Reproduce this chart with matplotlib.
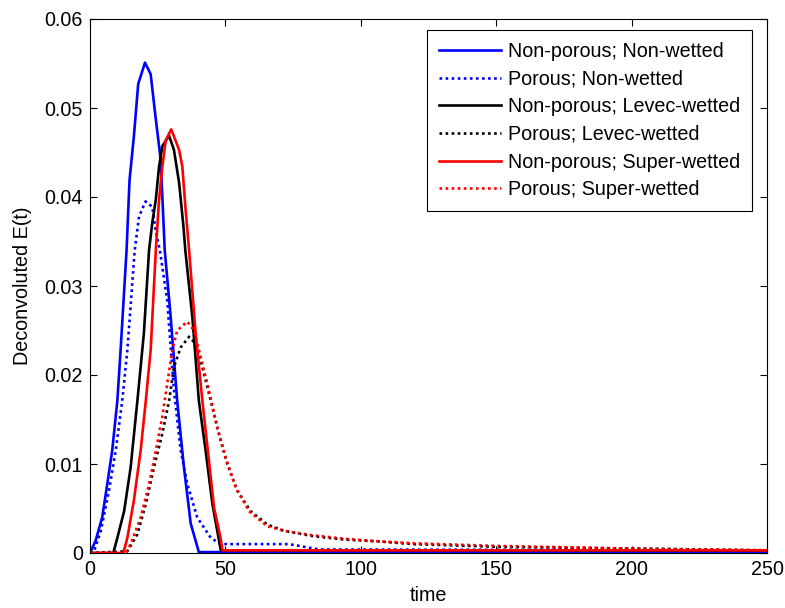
import matplotlib
matplotlib.use("Agg")
import matplotlib.pyplot as plt

plt.rcParams['font.family'] = ['Liberation Sans', 'DejaVu Sans']

# Non-porous; Non-wetted
t_np_nw = [0, 2.1, 4.5, 6.4, 8.2, 10.1, 11.3, 13.5, 14.6, 16.2, 17.8, 20.3, 22.4, 24.2, 26.1,
           27.6, 29.8, 32.2, 34.7, 37.2, 40.2, 250]
e_np_nw = [0, 0.0014, 0.004, 0.0078, 0.0115, 0.0171, 0.0228, 0.034, 0.0419, 0.0468, 0.0527,
           0.0551, 0.0538, 0.049, 0.0442, 0.034, 0.0265, 0.0171, 0.0096, 0.0033, 0.0001, 0.0001]

# Porous; Non-wetted
t_p_nw = [0, 1.5, 4, 7, 9.5, 11.9, 13.8, 16.5, 18.1, 20.5, 23, 24.2, 25.8, 28.5, 31, 33.5,
          35.9, 39.6, 44.6, 48.2, 73.5, 84.6, 250]
e_p_nw = [0, 0.0002, 0.0025, 0.007, 0.0115, 0.0171, 0.0228, 0.034, 0.0378, 0.0395, 0.0389,
          0.0363, 0.034, 0.0284, 0.0183, 0.0115, 0.0078, 0.004, 0.0017, 0.001, 0.001, 0.0004, 0.0003]

# Non-porous; Levec-wetted
t_np_lw = [0, 8.6, 10.1, 12.6, 15, 17.5, 19.9, 21.8, 23, 24.3, 25.5, 26.7, 29.2, 31, 32.9,
           34.5, 35.2, 37.8, 40.2, 42.7, 45.2, 48.3, 250]
e_np_lw = [0, 0, 0.0017, 0.0047, 0.0096, 0.0171, 0.0247, 0.034, 0.0371, 0.0397, 0.0434,
           0.0457, 0.0469, 0.0453, 0.0416, 0.0367, 0.034, 0.0265, 0.0171, 0.0115, 0.0055,
           0.0003, 0.0003]

# Porous; Levec-wetted
t_p_lw = [0, 13.8, 17.5, 20.6, 23.6, 26.7, 29.2, 31, 33.5, 36.6, 39, 41.5, 44.6, 47.6, 50.7,
          54.4, 59.3, 65.5, 71.6, 82.1, 94.4, 106.7, 119, 150, 200, 250]
e_p_lw = [0, 0.0002, 0.0021, 0.0055, 0.0096, 0.0134, 0.0171, 0.0209, 0.0231, 0.0243, 0.0235,
          0.0209, 0.0171, 0.0134, 0.01, 0.007, 0.0047, 0.0032, 0.0025, 0.0019, 0.0015, 0.0013,
          0.001, 0.0007, 0.0005, 0.0003]

# Non-porous; Super-wetted
t_np_sw = [0, 12.3, 13.8, 16.2, 18.7, 20.6, 22.4, 24.3, 25.5, 26.7, 28, 30, 32.9, 34.1, 35.3,
           36.6, 39, 41.5, 43.9, 45.8, 48.2, 48.9, 250]
e_np_sw = [0, 0, 0.0017, 0.0059, 0.0115, 0.0171, 0.0228, 0.034, 0.0397, 0.0434, 0.0464,
           0.0476, 0.0453, 0.0434, 0.0386, 0.034, 0.0247, 0.0171, 0.0104, 0.0051, 0.0017,
           0.0003, 0.0003]

# Porous; Super-wetted
t_p_sw = [0, 13.2, 15, 18.7, 21.8, 24.3, 26.7, 28.5, 30.4, 32.2, 35.9, 38.4, 40.9, 43.9, 47,
          50.1, 53.8, 58.7, 65.5, 71.6, 82, 94, 107, 119, 150, 200, 250]
e_p_sw = [0, 0, 0.001, 0.004, 0.0077, 0.0115, 0.0153, 0.019, 0.0228, 0.025, 0.026, 0.025,
          0.022, 0.0183, 0.0141, 0.0107, 0.0074, 0.0047, 0.003, 0.0025, 0.002, 0.0016, 0.0013,
          0.0011, 0.0008, 0.0005, 0.0003]

labels = ["Non-porous; Non-wetted", "Porous; Non-wetted", "Non-porous; Levec-wetted",
          "Porous; Levec-wetted", "Non-porous; Super-wetted", "Porous; Super-wetted"]
x_ticks = [0, 50, 100, 150, 200, 250]
y_ticks = [0, 0.01, 0.02, 0.03, 0.04, 0.05, 0.06]
y_tick_labels = ["0", "0.01", "0.02", "0.03", "0.04", "0.05", "0.06"]

FS = 14.2

fig = plt.figure(figsize=(7.85, 6.08), dpi=100)
ax = fig.add_axes([90 / 785, 55 / 608, 677 / 785, 534 / 608])

lw = 1.9
dot = (0, (1, 1.3))
ax.plot(t_np_nw, e_np_nw, color=(0, 0, 1), lw=lw, ls='-', label=labels[0])
ax.plot(t_p_nw, e_p_nw, color=(0, 0, 1), lw=lw, ls=dot, label=labels[1])
ax.plot(t_np_lw, e_np_lw, color='black', lw=lw, ls='-', label=labels[2])
ax.plot(t_p_lw, e_p_lw, color='black', lw=lw, ls=dot, label=labels[3])
ax.plot(t_np_sw, e_np_sw, color=(1, 0, 0), lw=lw, ls='-', label=labels[4])
ax.plot(t_p_sw, e_p_sw, color=(1, 0, 0), lw=lw, ls=dot, label=labels[5])

ax.set_xlim(0, 250)
ax.set_ylim(0, 0.06)
ax.set_xticks(x_ticks)
ax.set_xticklabels([str(v) for v in x_ticks])
ax.set_yticks(y_ticks)
ax.set_yticklabels(y_tick_labels)
ax.tick_params(direction='in', length=5, width=0.8, top=True, right=True,
               labelsize=FS, pad=5)
for s in ax.spines.values():
    s.set_linewidth(0.8)

ax.set_xlabel("time", fontsize=FS, labelpad=5)
ax.set_ylabel("Deconvoluted E(t)", fontsize=FS, labelpad=9)

leg = ax.legend(loc='upper right', bbox_to_anchor=((752 - 90) / 677, (553 - 30) / 534),
                borderaxespad=0, fontsize=FS, fancybox=False, edgecolor='black',
                framealpha=1, handlelength=3.15, handletextpad=0.35, labelspacing=0.44,
                borderpad=0.6)
leg.get_frame().set_linewidth(0.8)

fig.savefig("out.png", dpi=100)
